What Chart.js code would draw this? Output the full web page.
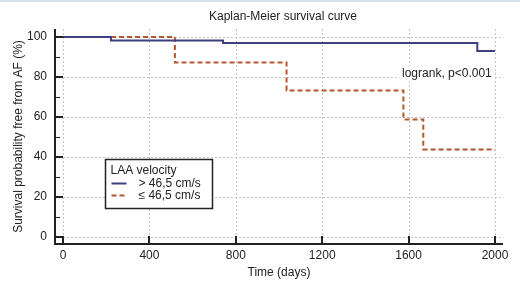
<!DOCTYPE html>
<html>
<head>
<meta charset="utf-8">
<script src="https://cdn.jsdelivr.net/npm/chart.js@4.4.0/dist/chart.umd.min.js"></script>
<style>
  html, body { margin: 0; padding: 0; background: #fff; }
  #wrap { width: 520px; height: 290px; }
</style>
</head>
<body>
<div id="wrap"><canvas id="myChart" width="520" height="290"></canvas></div>
<script>
// Kaplan-Meier curves
const timesHigh = [0, 222, 741, 1918, 2000];
const survHigh = [100, 98.3, 97, 93, 93];
const timesLow = [0, 518, 1035, 1576, 1668, 2000];
const survLow = [100, 87.3, 73.3, 58.8, 43.8, 43.8];

const xTicks = [0, 400, 800, 1200, 1600, 2000];
const yTicks = [0, 20, 40, 60, 80, 100];
const yMinorTicks = [10, 30, 50, 70, 90];

const labelHigh = '> 46,5 cm/s';
const labelLow = '\u2264 46,5 cm/s';
const legendTitle = 'LAA velocity';
const logrankText = 'logrank, p<0.001';
const chartTitle = 'Kaplan-Meier survival curve';

const FONT = "'Liberation Sans', Arial, sans-serif";
const INK = '#222';

function toPoints(xs, ys) {
    return xs.map((x, i) => ({ x: x, y: ys[i] }));
}

const decorPlugin = {
    id: 'decor',
    beforeDraw(chart) {
        const ctx = chart.ctx;
        ctx.save();
        ctx.fillStyle = '#fff';
        ctx.fillRect(0, 0, chart.width, chart.height);
        ctx.strokeStyle = '#d6e0e8';
        ctx.lineWidth = 2;
        ctx.beginPath();
        ctx.moveTo(0, 1);
        ctx.lineTo(chart.width, 1);
        ctx.stroke();
        ctx.restore();
    },
    beforeDatasetsDraw(chart) {
        // dotted grid inside the plot only
        const ctx = chart.ctx;
        const xs = chart.scales.x;
        const ys = chart.scales.y;
        const area = chart.chartArea;
        ctx.save();
        ctx.strokeStyle = '#c4c4c4';
        ctx.lineWidth = 1;
        ctx.setLineDash([2, 2]);
        ctx.beginPath();
        xTicks.forEach(v => {
            const px = Math.round(xs.getPixelForValue(v)) + 0.5;
            ctx.moveTo(px, area.top);
            ctx.lineTo(px, area.bottom);
        });
        yTicks.forEach(v => {
            const py = Math.round(ys.getPixelForValue(v)) + 0.5;
            ctx.moveTo(area.left, py);
            ctx.lineTo(area.right, py);
        });
        ctx.stroke();
        ctx.restore();
    },
    afterDraw(chart) {
        const ctx = chart.ctx;
        const xs = chart.scales.x;
        const ys = chart.scales.y;
        const area = chart.chartArea;
        ctx.save();
        // title centred over the plot
        ctx.font = '12px ' + FONT;
        ctx.fillStyle = INK;
        ctx.textAlign = 'center';
        ctx.textBaseline = 'middle';
        ctx.fillText(chartTitle, (area.left + area.right) / 2 + 4, 17);

        // axis lines
        ctx.strokeStyle = INK;
        ctx.lineWidth = 2;
        ctx.beginPath();
        ctx.moveTo(area.left, area.top);
        ctx.lineTo(area.left, area.bottom);
        ctx.lineTo(area.right, area.bottom);
        ctx.stroke();

        // inward ticks
        ctx.beginPath();
        xTicks.forEach(v => {
            const px = Math.round(xs.getPixelForValue(v));
            ctx.moveTo(px, area.bottom);
            ctx.lineTo(px, area.bottom - 8);
        });
        yTicks.forEach(v => {
            const py = Math.round(ys.getPixelForValue(v));
            ctx.moveTo(area.left, py);
            ctx.lineTo(area.left + 8, py);
        });
        ctx.stroke();
        ctx.lineWidth = 1;
        ctx.beginPath();
        yMinorTicks.forEach(v => {
            const py = Math.round(ys.getPixelForValue(v)) + 0.5;
            ctx.moveTo(area.left, py);
            ctx.lineTo(area.left + 5, py);
        });
        ctx.stroke();

        // logrank note
        ctx.textAlign = 'right';
        const lx = xs.getPixelForValue(1985);
        const ly = ys.getPixelForValue(81.5);
        const tw = ctx.measureText(logrankText).width;
        ctx.fillStyle = '#fff';
        ctx.fillRect(lx - tw - 3, ly - 8, tw + 6, 16);
        ctx.fillStyle = INK;
        ctx.fillText(logrankText, lx, ly);

        // legend box
        const bx = area.left + 50.5;
        const by = area.top + 130.5;
        const bw = 107;
        const bh = 49;
        ctx.fillStyle = '#fff';
        ctx.fillRect(bx, by, bw, bh);
        ctx.strokeStyle = INK;
        ctx.lineWidth = 1.5;
        ctx.strokeRect(bx, by, bw, bh);
        ctx.textAlign = 'left';
        ctx.fillStyle = INK;
        ctx.fillText(legendTitle, bx + 5, by + 11);
        chart.data.datasets.forEach((ds, i) => {
            const yy = by + 24 + i * 12;
            ctx.strokeStyle = ds.borderColor;
            ctx.lineWidth = 2;
            ctx.setLineDash(ds.borderDash || []);
            ctx.beginPath();
            ctx.moveTo(bx + 6, yy);
            ctx.lineTo(bx + 21, yy);
            ctx.stroke();
            ctx.setLineDash([]);
            ctx.fillStyle = INK;
            ctx.fillText(ds.label, bx + 33, yy);
        });
        ctx.restore();
    }
};

const ctx = document.getElementById('myChart').getContext('2d');
const chart = new Chart(ctx, {
    type: 'line',
    data: {
        datasets: [
            {
                label: labelHigh,
                data: toPoints(timesHigh, survHigh),
                borderColor: '#3f3f7e',
                borderWidth: 2,
                stepped: 'before',
                pointRadius: 0,
                fill: false
            },
            {
                label: labelLow,
                data: toPoints(timesLow, survLow),
                borderColor: '#b4582e',
                borderWidth: 2,
                borderDash: [5, 3],
                stepped: 'before',
                pointRadius: 0,
                fill: false
            }
        ]
    },
    options: {
        responsive: false,
        animation: false,
        layout: { padding: { left: 0, right: 17, top: 29, bottom: 0 } },
        plugins: {
            legend: { display: false },
            tooltip: { enabled: false },
            title: { display: false }
        },
        scales: {
            x: {
                type: 'linear',
                min: -37,
                max: 2037,
                afterBuildTicks: (scale) => { scale.ticks = xTicks.map(v => ({ value: v })); },
                afterFit: (scale) => {
                    scale.height = 46;
                    scale.paddingLeft = 0;
                    scale.paddingRight = 0;
                },
                ticks: {
                    color: INK,
                    font: { family: FONT, size: 12 },
                    padding: 4,
                    maxRotation: 0,
                    callback: (v) => String(v)
                },
                grid: { display: false, drawTicks: false },
                border: { display: false },
                title: {
                    display: true,
                    text: 'Time (days)',
                    color: INK,
                    font: { family: FONT, size: 12 },
                    padding: { top: 2, bottom: 10 }
                }
            },
            y: {
                type: 'linear',
                min: -3.5,
                max: 104,
                afterBuildTicks: (scale) => { scale.ticks = yTicks.map(v => ({ value: v })); },
                afterFit: (scale) => {
                    scale.width = 55;
                    scale.paddingTop = 0;
                    scale.paddingBottom = 0;
                },
                ticks: {
                    color: INK,
                    font: { family: FONT, size: 12 },
                    padding: 8
                },
                grid: { display: false, drawTicks: false },
                border: { display: false },
                title: {
                    display: true,
                    text: 'Survival probability free from AF (%)',
                    color: INK,
                    font: { family: FONT, size: 12 },
                    padding: { top: 11, bottom: 0 }
                }
            }
        }
    },
    plugins: [decorPlugin]
});
</script>
</body>
</html>
